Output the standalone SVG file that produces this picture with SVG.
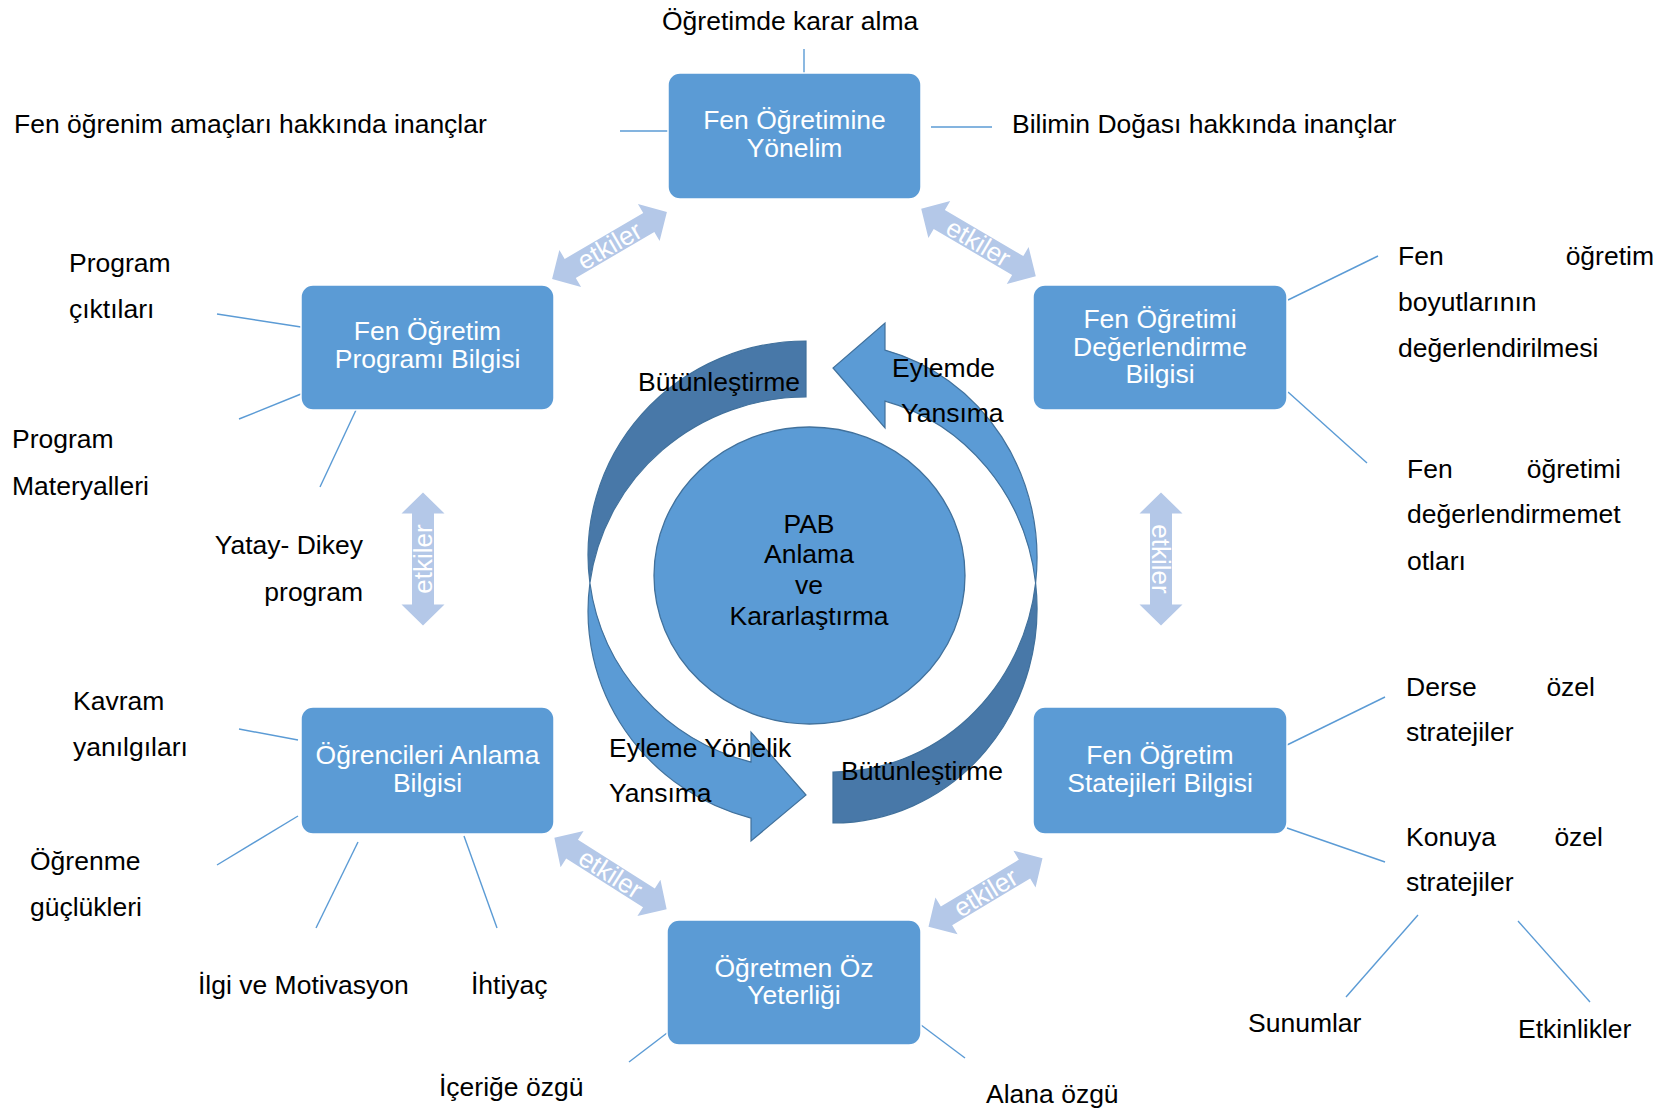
<svg xmlns="http://www.w3.org/2000/svg" width="1668" height="1113" viewBox="0 0 1668 1113">
<defs>
<style>
.box{fill:#5B9BD5;stroke:#FFFFFF;stroke-width:1.5}
.bt{font-family:"Liberation Sans",Arial,sans-serif;font-size:26.5px;fill:#FFFFFF;text-anchor:middle}
.lb{font-family:"Liberation Sans",Arial,sans-serif;font-size:26.5px;fill:#000000}
.ln{stroke:#5B9BD5;stroke-width:1.4;fill:none}
.dk{fill:#4878A8;stroke:#41719C;stroke-width:1.2}
.lt{fill:#5B9BD5;stroke:#41719C;stroke-width:1.2}
.ek{fill:#B4C8E8}
.et{font-family:"Liberation Sans",Arial,sans-serif;font-size:26px;fill:#FFFFFF;text-anchor:middle}
</style>
<path id="dbl" d="M -66.5,0 L -45.5,-21.5 L -45.5,-11 L 45.5,-11 L 45.5,-21.5 L 66.5,0 L 45.5,21.5 L 45.5,11 L -45.5,11 L -45.5,21.5 Z"/>
</defs>
<rect width="1668" height="1113" fill="#FFFFFF"/>

<g id="connectors">
<line class="ln" x1="804" y1="49" x2="804" y2="73"/>
<line class="ln" x1="620" y1="131" x2="668" y2="131"/>
<line class="ln" x1="931" y1="127" x2="992" y2="127"/>
<line class="ln" x1="217" y1="314" x2="301" y2="327"/>
<line class="ln" x1="239" y1="419" x2="301" y2="394"/>
<line class="ln" x1="320" y1="487" x2="356" y2="410"/>
<line class="ln" x1="1288" y1="300" x2="1378" y2="256"/>
<line class="ln" x1="1288" y1="392" x2="1367" y2="463"/>
<line class="ln" x1="239" y1="729" x2="298" y2="740"/>
<line class="ln" x1="217" y1="865" x2="298" y2="816"/>
<line class="ln" x1="316" y1="928" x2="358" y2="842"/>
<line class="ln" x1="464" y1="836" x2="497" y2="928"/>
<line class="ln" x1="1287" y1="745" x2="1385" y2="697"/>
<line class="ln" x1="1287" y1="828" x2="1385" y2="862"/>
<line class="ln" x1="1418" y1="915" x2="1346" y2="997"/>
<line class="ln" x1="1518" y1="921" x2="1590" y2="1002"/>
<line class="ln" x1="667" y1="1033" x2="629" y2="1062"/>
<line class="ln" x1="921" y1="1025" x2="965" y2="1058"/>
</g>

<g id="etkiler-arrows">
<g transform="translate(609.5,245.5) rotate(-30.3)"><use href="#dbl" class="ek"/><text class="et" x="0" y="9">etkiler</text></g>
<g transform="translate(978.5,242.5) rotate(30.5)"><use href="#dbl" class="ek"/><text class="et" x="0" y="9">etkiler</text></g>
<g transform="translate(423,559) rotate(-90)"><use href="#dbl" class="ek"/><text class="et" x="0" y="9">etkiler</text></g>
<g transform="translate(1161,559) rotate(90)"><use href="#dbl" class="ek"/><text class="et" x="0" y="9">etkiler</text></g>
<g transform="translate(610.5,873.5) rotate(32.4)"><use href="#dbl" class="ek"/><text class="et" x="0" y="9">etkiler</text></g>
<g transform="translate(985.5,892.5) rotate(-31)"><use href="#dbl" class="ek"/><text class="et" x="0" y="9">etkiler</text></g>
</g>

<g id="cycle">
<path class="dk" d="M 806,341 A 218 214 0 0 0 589.9,583 A 218 214 0 0 1 806,397 Z"/>
<path class="lt" d="M 589.9,583 A 218 214 0 0 0 751,818.1 L 751,841 L 806,795 L 751,732 L 751,762.1 A 218 214 0 0 1 589.9,583 Z"/>
<path class="dk" d="M 833,823 A 204 214.5 0 0 0 1035.6,583 A 204 214.5 0 0 1 833,772 Z"/>
<path class="lt" d="M 1035.6,583 A 204 214.5 0 0 0 885,350.1 L 885,323 L 833,368 L 885,428 L 885,401.1 A 204 214.5 0 0 1 1035.6,583 Z"/>
<text class="lb" x="638" y="391">Bütünleştirme</text>
<text class="lb" x="892" y="377">Eylemde</text>
<text class="lb" x="901" y="422">Yansıma</text>
<text class="lb" x="609" y="757">Eyleme Yönelik</text>
<text class="lb" x="609" y="802">Yansıma</text>
<text class="lb" x="841" y="780">Bütünleştirme</text>
</g>

<g id="center">
<ellipse cx="809.5" cy="575.5" rx="155.5" ry="148.5" fill="#5B9BD5" stroke="#41719C" stroke-width="1.3"/>
<text class="lb" x="809" y="533" text-anchor="middle">PAB</text>
<text class="lb" x="809" y="563" text-anchor="middle">Anlama</text>
<text class="lb" x="809" y="594" text-anchor="middle">ve</text>
<text class="lb" x="809" y="625" text-anchor="middle">Kararlaştırma</text>
</g>

<g id="node-top">
<rect class="box" x="668" y="73" width="253" height="126" rx="12"/>
<text class="bt" x="794.5" y="129">Fen Öğretimine</text>
<text class="bt" x="794.5" y="157">Yönelim</text>
</g>
<g id="node-program">
<rect class="box" x="301" y="285" width="253" height="125" rx="12"/>
<text class="bt" x="427.5" y="340">Fen Öğretim</text>
<text class="bt" x="427.5" y="368">Programı Bilgisi</text>
</g>
<g id="node-degerlendirme">
<rect class="box" x="1033" y="285" width="254" height="125" rx="12"/>
<text class="bt" x="1160" y="328">Fen Öğretimi</text>
<text class="bt" x="1160" y="356">Değerlendirme</text>
<text class="bt" x="1160" y="383">Bilgisi</text>
</g>
<g id="node-ogrenciler">
<rect class="box" x="301" y="707" width="253" height="127" rx="12"/>
<text class="bt" x="427.5" y="764">Öğrencileri Anlama</text>
<text class="bt" x="427.5" y="792">Bilgisi</text>
</g>
<g id="node-stratejiler">
<rect class="box" x="1033" y="707" width="254" height="127" rx="12"/>
<text class="bt" x="1160" y="764">Fen Öğretim</text>
<text class="bt" x="1160" y="792">Statejileri Bilgisi</text>
</g>
<g id="node-ozyeterlik">
<rect class="box" x="667" y="920" width="254" height="125" rx="12"/>
<text class="bt" x="794" y="977">Öğretmen Öz</text>
<text class="bt" x="794" y="1004">Yeterliği</text>
</g>

<g id="labels">
<text class="lb" x="662" y="30">Öğretimde karar alma</text>
<text class="lb" x="14" y="133">Fen öğrenim amaçları hakkında inançlar</text>
<text class="lb" x="1012" y="133">Bilimin Doğası hakkında inançlar</text>
<text class="lb" x="69" y="272">Program</text>
<text class="lb" x="69" y="318">çıktıları</text>
<text class="lb" x="12" y="448">Program</text>
<text class="lb" x="12" y="495">Materyalleri</text>
<text class="lb" x="363" y="554" text-anchor="end">Yatay- Dikey</text>
<text class="lb" x="363" y="601" text-anchor="end">program</text>
<text class="lb" x="1398" y="265">Fen</text>
<text class="lb" x="1654" y="265" text-anchor="end">öğretim</text>
<text class="lb" x="1398" y="311">boyutlarının</text>
<text class="lb" x="1398" y="357">değerlendirilmesi</text>
<text class="lb" x="1407" y="478">Fen</text>
<text class="lb" x="1621" y="478" text-anchor="end">öğretimi</text>
<text class="lb" x="1407" y="523">değerlendirmemet</text>
<text class="lb" x="1407" y="570">otları</text>
<text class="lb" x="73" y="710">Kavram</text>
<text class="lb" x="73" y="756">yanılgıları</text>
<text class="lb" x="30" y="870">Öğrenme</text>
<text class="lb" x="30" y="916">güçlükleri</text>
<text class="lb" x="198" y="994">İlgi ve Motivasyon</text>
<text class="lb" x="471" y="994">İhtiyaç</text>
<text class="lb" x="1406" y="696">Derse</text>
<text class="lb" x="1595" y="696" text-anchor="end">özel</text>
<text class="lb" x="1406" y="741">stratejiler</text>
<text class="lb" x="1406" y="846">Konuya</text>
<text class="lb" x="1603" y="846" text-anchor="end">özel</text>
<text class="lb" x="1406" y="891">stratejiler</text>
<text class="lb" x="1248" y="1032">Sunumlar</text>
<text class="lb" x="1518" y="1038">Etkinlikler</text>
<text class="lb" x="439" y="1096">İçeriğe özgü</text>
<text class="lb" x="986" y="1103">Alana özgü</text>
</g>
</svg>
